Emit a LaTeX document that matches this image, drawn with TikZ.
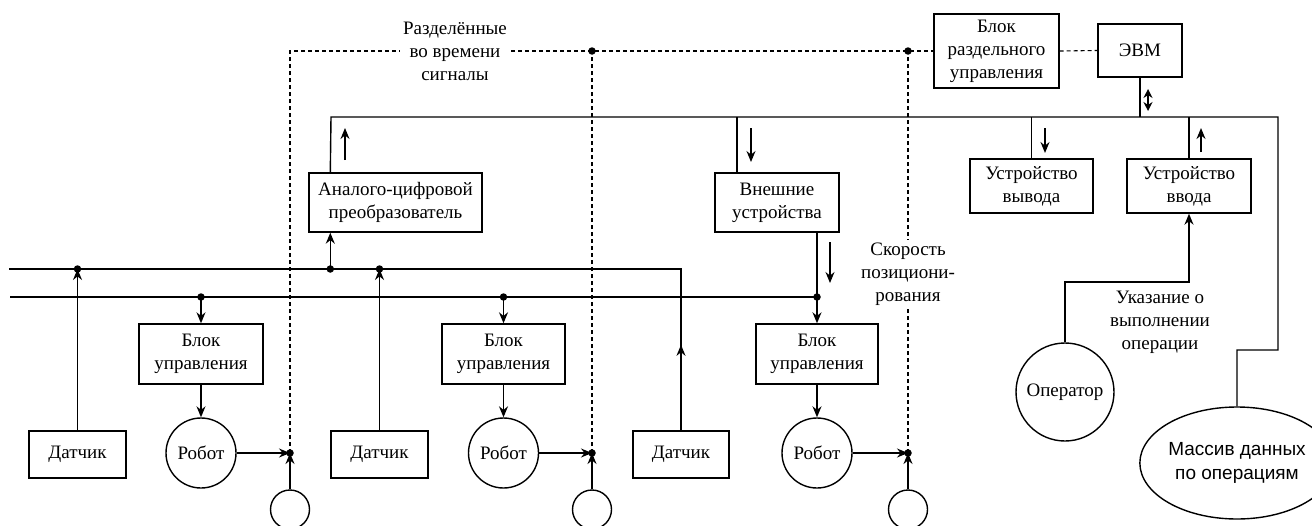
\documentclass[tikz,border=0pt]{standalone}
\usepackage{fontspec}
\setmainfont{Liberation Serif}
\newfontfamily\sansf{Liberation Sans}
\usetikzlibrary{arrows.meta,calc,shapes.geometric}
\begin{document}
\begin{tikzpicture}[x=1pt,y=-1pt,line width=1.4pt,
  txt/.style={font=\fontsize{19}{23}\selectfont, align=center, inner sep=2pt},
  box/.style={draw, txt, line width=1.4pt},
  circ/.style={draw, circle, txt, line width=1.4pt, inner sep=0pt},
  arr/.style={-{Stealth[length=11pt,width=9pt]}},
  darr/.style={{Stealth[length=9pt,width=9pt]}-{Stealth[length=9pt,width=9pt]}},
  dsh/.style={line width=1.1pt, dash pattern=on 4pt off 3pt},
  lbl/.style={txt, fill=white, inner sep=3pt},
  dot/.style={circle, fill, inner sep=0pt, minimum size=7.5pt}]
\useasboundingbox (0,0) rectangle (1312,525);

% boxes
\node[box, minimum width=125pt, minimum height=74pt] (bru) at (996.5,51) {Блок\\раздельного\\управления};
\node[box, minimum width=84pt, minimum height=53pt] (evm) at (1140,50.5) {ЭВМ};
\node[box, minimum width=173pt, minimum height=59pt] (adc) at (395.5,202.5) {Аналого-цифровой\\преобразователь};
\node[box, minimum width=124pt, minimum height=59pt] (ext) at (777,202.5) {Внешние\\устройства};
\node[box, minimum width=123pt, minimum height=54pt] (out) at (1031.5,186) {Устройство\\вывода};
\node[box, minimum width=124pt, minimum height=54pt] (inp) at (1189,186) {Устройство\\ввода};
\node[box, minimum width=124pt, minimum height=60pt] (bu1) at (201,354) {Блок\\управления};
\node[box, minimum width=123pt, minimum height=60pt] (bu2) at (503.5,354) {Блок\\управления};
\node[box, minimum width=122pt, minimum height=60pt] (bu3) at (817,354) {Блок\\управления};
\node[box, minimum width=97pt, minimum height=47pt] (d1) at (77.5,454.5) {Датчик};
\node[box, minimum width=97pt, minimum height=47pt] (d2) at (379.5,454.5) {Датчик};
\node[box, minimum width=96pt, minimum height=47pt] (d3) at (681,454.5) {Датчик};
\node[circ, minimum size=70pt] (r1) at (201,453) {Робот};
\node[circ, minimum size=70pt] (r2) at (503.5,453) {Робот};
\node[circ, minimum size=70pt] (r3) at (817,453) {Робот};
\node[circ, minimum size=39pt] (c1) at (290,509.5) {};
\node[circ, minimum size=39pt] (c2) at (592,509.5) {};
\node[circ, minimum size=39pt] (c3) at (908,509.5) {};
\node[circ, minimum size=98pt] (op) at (1065,392) {Оператор};
\node[draw, ellipse, line width=1.4pt, minimum width=156pt, minimum height=112pt, inner sep=0pt,
      align=center, font=\sansf\fontsize{19}{24}\selectfont] (mass) at (1237,463) {Массив данных\\по операциям};

% coordinates
\coordinate (j1) at (290,453);
\coordinate (j2) at (592,453);
\coordinate (j3) at (908,453);
\coordinate (t1) at (290,51);
\coordinate (t2) at (592,51);
\coordinate (t3) at (908,51);
\coordinate (b1L) at (9,269);
\coordinate (b1R) at (681,269);
\coordinate (b2L) at (10,297);
\coordinate (b2R) at (817,297);
\coordinate (mL) at (331,117);
\coordinate (mR) at (1278,117);
\coordinate (mD) at (1278,350);
\coordinate (elb) at (1120,282);
\coordinate (adcb) at ([xshift=22pt]adc.south west);
\coordinate (adct) at ([xshift=22pt]adc.north west);
\coordinate (extt) at ([xshift=-40pt]ext.north);
\coordinate (extb) at ([xshift=40pt]ext.south);

% buses
\draw (b1L) -- (b1R) -- (d3.north);
\draw[arr] (d3.north) -- ($(d3.north)!0.53!(b1R)$);
\draw (b2L) -- (b2R);
\draw[arr] (d1.north) -- (d1.north |- b1L);
\draw[arr] (d2.north) -- (d2.north |- b1L);
\draw[arr] (adcb |- b1L) -- (adcb);
\draw (adct) -- (mL) -- (mR) -- (mD) -| (mass.north);
\draw (extt |- mL) -- (extt);
\draw (extb) -- (b2R);
\draw (out.north |- mL) -- (out.north);
\draw (inp.north |- mL) -- (inp.north);
\draw (evm.south) -- (evm.south |- mL);
\draw[arr] (op.north) |- (elb) -| (inp.south);

\draw[arr] (bu1.north |- b2L) -- (bu1.north);
\draw[arr] (bu2.north |- b2L) -- (bu2.north);
\draw[arr] (b2R) -- (bu3.north);
\draw[arr] (bu1.south) -- (r1.north);
\draw[arr] (bu2.south) -- (r2.north);
\draw[arr] (bu3.south) -- (r3.north);
\draw[arr] (r1.east) -- (j1);
\draw[arr] (r2.east) -- (j2);
\draw[arr] (r3.east) -- (j3);
\draw[arr] (c1.north) -- (j1);
\draw[arr] (c2.north) -- (j2);
\draw[arr] (c3.north) -- (j3);

% dashed signal lines
\draw[dsh] (j1) -- (t1) -- (bru.west);
\draw[dsh] (j2) -- (t2);
\draw[dsh] (j3) -- (t3);
\draw[dsh] (bru.east) -- (evm.west);

% free direction arrows
\coordinate (a1s) at (345,160); \coordinate (a1e) at (345,128);
\coordinate (a2s) at (751,128); \coordinate (a2e) at (751,162);
\coordinate (a3s) at (830,242); \coordinate (a3e) at (830,283);
\coordinate (a4s) at (1045,128); \coordinate (a4e) at (1045,153);
\coordinate (a5s) at (1201,152); \coordinate (a5e) at (1201,128);
\coordinate (a6s) at (1148,89); \coordinate (a6e) at (1148,111);
\draw[arr] (a1s) -- (a1e);
\draw[arr] (a2s) -- (a2e);
\draw[arr] (a3s) -- (a3e);
\draw[arr] (a4s) -- (a4e);
\draw[arr] (a5s) -- (a5e);
\draw[darr] (a6s) -- (a6e);

% dots
\foreach \p in {j1,j2,j3,t2,t3,b2R}
  \node[dot] at (\p) {};
\node[dot] at (d1.north |- b1L) {};
\node[dot] at (d2.north |- b1L) {};
\node[dot] at (adcb |- b1L) {};
\node[dot] at (bu1.north |- b2L) {};
\node[dot] at (bu2.north |- b2L) {};

% labels
\node[lbl] (sig) at (455,51) {Разделённые\\во времени\\сигналы};
\node[lbl] (spd) at (908,274) {Скорость\\позициони-\\рования};
\node[txt] (ind) at (1160,322) {Указание о\\выполнении\\операции};
\end{tikzpicture}
\end{document}
